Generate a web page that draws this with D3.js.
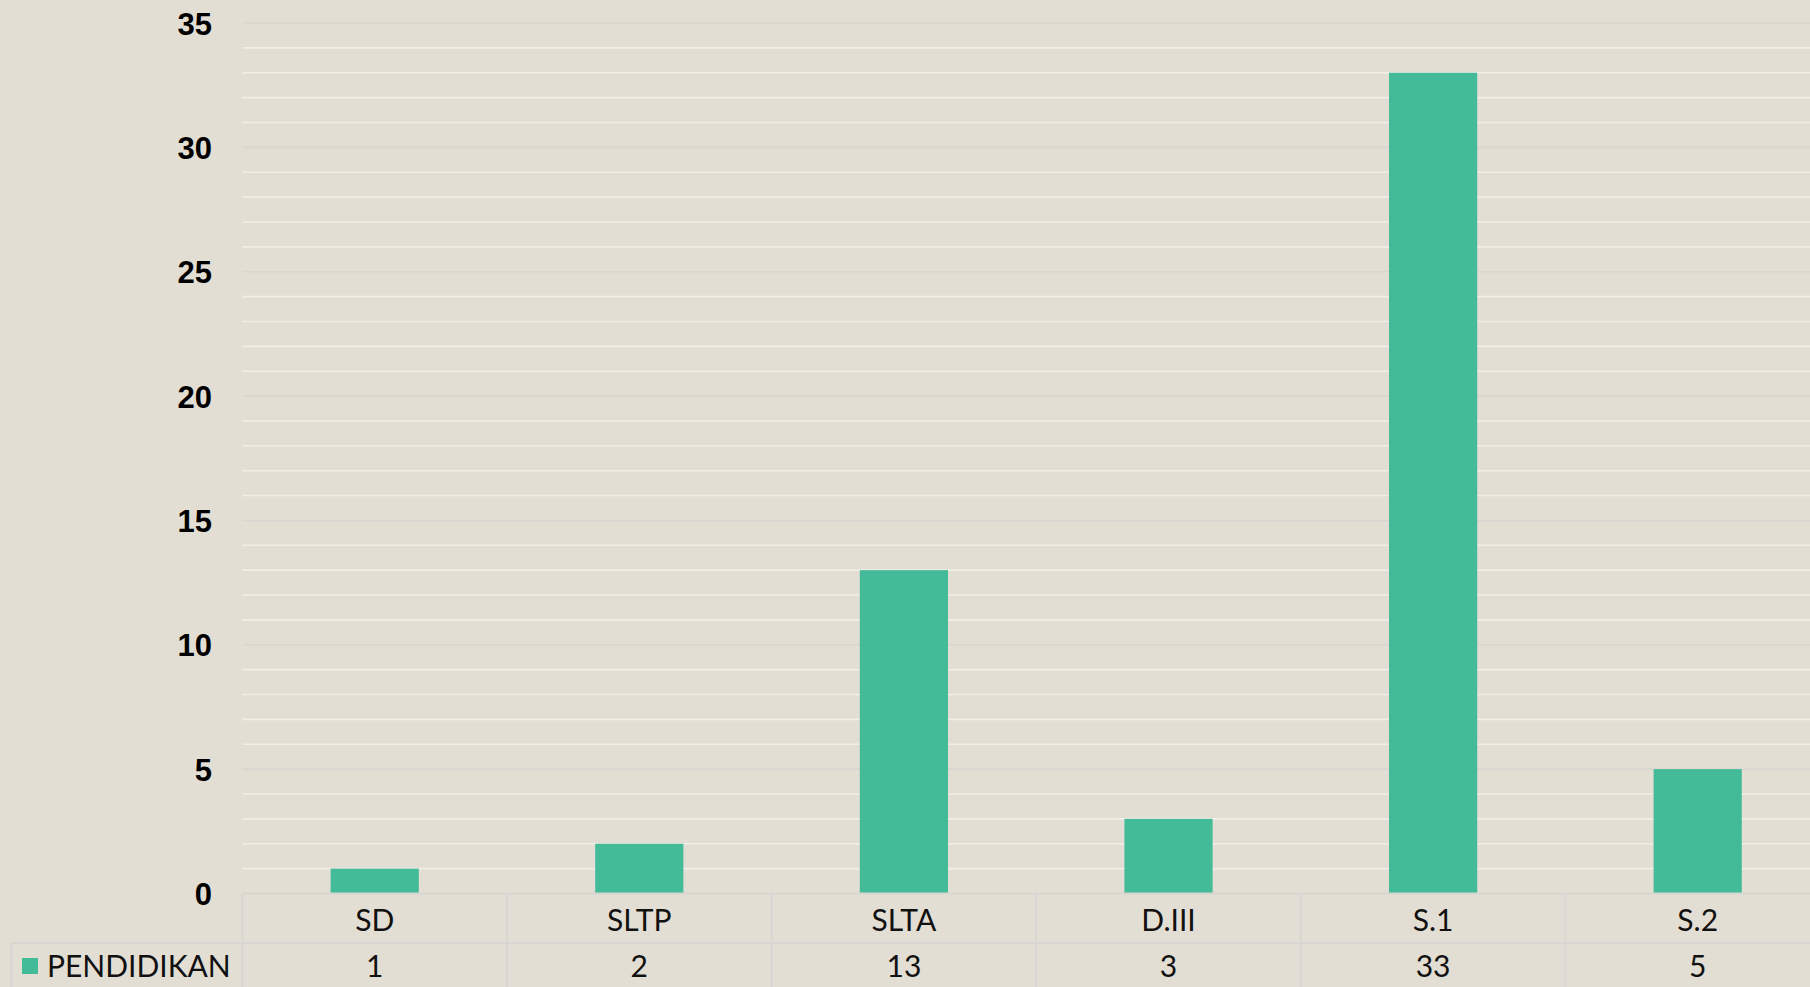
<!DOCTYPE html>
<html>
<head>
<meta charset="utf-8">
<script src="https://cdn.jsdelivr.net/npm/d3@7"></script>
<style>
  html, body { margin: 0; padding: 0; background: #e3ded3; overflow: hidden; }
  svg { display: block; }
</style>
</head>
<body>
<svg id="chart" width="1810" height="987"></svg>
<script>
const categories = ["SD", "SLTP", "SLTA", "D.III", "S.1", "S.2"];
const values = [1, 2, 13, 3, 33, 5];
const seriesName = "PENDIDIKAN";
const yTicks = [0, 5, 10, 15, 20, 25, 30, 35];
const yMax = 35;

const W = 1810, H = 987;
const plotLeft = 242.4, step = 264.6;
const plotRight = plotLeft + step * categories.length;
const yTop = 23, yBottom = 893.5;
const rowLine = 943;

const svg = d3.select("#chart");
svg.append("rect").attr("width", W).attr("height", H).attr("fill", "#e3ded3");

const x = d3.scaleBand().domain(categories).range([plotLeft, plotRight])
  .paddingInner(2/3).paddingOuter(1/3);
const xCell = d3.scaleBand().domain(categories).range([plotLeft, plotRight]);
const y = d3.scaleLinear().domain([0, yMax]).range([yBottom, yTop]);

// gridlines
const grid = svg.append("g");
const all = d3.range(0, yMax + 1);
grid.selectAll("line.minor").data(all.filter(d => d % 5 !== 0)).join("line")
  .attr("x1", plotLeft).attr("x2", W)
  .attr("y1", d => y(d)).attr("y2", d => y(d))
  .attr("stroke", "#f1eee9").attr("stroke-width", 1.6);
grid.selectAll("line.major").data(yTicks.filter(d => d > 0)).join("line")
  .attr("x1", plotLeft).attr("x2", W)
  .attr("y1", d => y(d)).attr("y2", d => y(d))
  .attr("stroke", "#d8d6d2").attr("stroke-width", 1.6);

// bars
svg.append("g").selectAll("rect").data(values).join("rect")
  .attr("x", (d, i) => x(categories[i]))
  .attr("width", x.bandwidth())
  .attr("y", d => y(d))
  .attr("height", d => y(0) - y(d))
  .attr("fill", "#43bb98");

// y axis labels
const yAxis = d3.axisLeft(y).tickValues(yTicks).tickSize(0).tickPadding(0);
const ya = svg.append("g").attr("transform", `translate(212,0)`).call(yAxis);
ya.select(".domain").remove();
ya.selectAll("text")
  .attr("font-family", "'Liberation Sans', Arial, sans-serif")
  .attr("font-weight", "bold")
  .attr("font-size", 31)
  .attr("fill", "#000")
  .attr("dy", "0.36em");

// data table
const tbl = svg.append("g");
const lineColor = "#d8d6d2";
tbl.append("line").attr("x1", plotLeft).attr("x2", W).attr("y1", yBottom).attr("y2", yBottom)
  .attr("stroke", lineColor).attr("stroke-width", 2);
tbl.append("line").attr("x1", 11.5).attr("x2", W).attr("y1", rowLine).attr("y2", rowLine)
  .attr("stroke", lineColor).attr("stroke-width", 2);
tbl.append("line").attr("x1", 11.5).attr("x2", 11.5).attr("y1", rowLine).attr("y2", H)
  .attr("stroke", lineColor).attr("stroke-width", 2);
tbl.selectAll("line.v").data(categories.concat(["_end"])).join("line")
  .attr("x1", (d, i) => plotLeft + i * xCell.step())
  .attr("x2", (d, i) => plotLeft + i * xCell.step())
  .attr("y1", yBottom).attr("y2", H)
  .attr("stroke", lineColor).attr("stroke-width", 2);

const xAxis = d3.axisBottom(xCell).tickSize(0).tickPadding(0);
const xa = svg.append("g").attr("transform", `translate(0,920)`).call(xAxis);
xa.select(".domain").remove();
xa.selectAll("text")
  .attr("font-family", "Lato, 'Open Sans', sans-serif")
  .attr("font-size", 30)
  .attr("fill", "#111")
  .attr("y", 0)
  .attr("dy", "0.36em");

tbl.selectAll("text.val").data(values).join("text")
  .attr("x", (d, i) => xCell(categories[i]) + xCell.bandwidth() / 2)
  .attr("y", 966).attr("dy", "0.36em")
  .attr("text-anchor", "middle")
  .attr("font-family", "Lato, 'Open Sans', sans-serif")
  .attr("font-size", 30).attr("fill", "#111")
  .text(d => d);

// legend key
tbl.append("rect").attr("x", 22).attr("y", 958).attr("width", 16).attr("height", 16).attr("fill", "#43bb98");
tbl.append("text").attr("x", 47).attr("y", 966).attr("dy", "0.36em")
  .attr("font-family", "Lato, 'Open Sans', sans-serif")
  .attr("font-size", 30).attr("fill", "#111")
  .text(seriesName);
</script>
</body>
</html>
